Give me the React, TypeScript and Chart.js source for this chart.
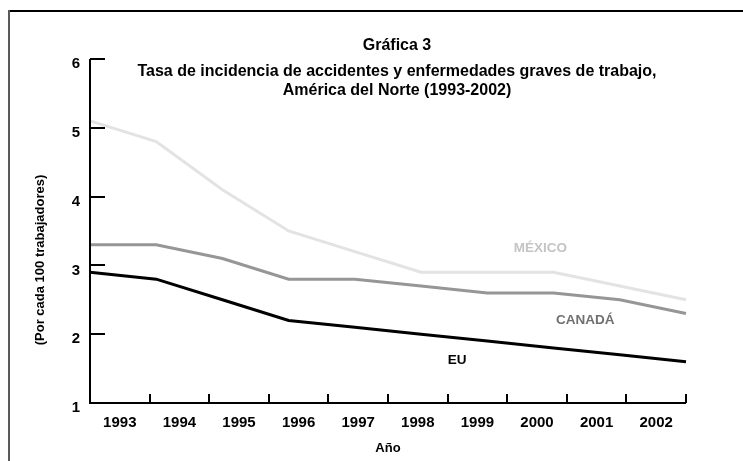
import React, { useEffect, useRef } from "react";
import { Chart, registerables } from "chart.js";

Chart.register(...registerables);

// ---- data ----
const years = ["1993", "1994", "1995", "1996", "1997", "1998", "1999", "2000", "2001", "2002"];
const mexico = [5.1, 4.8, 4.1, 3.5, 3.2, 2.9, 2.9, 2.9, 2.7, 2.5];
const canada = [3.3, 3.3, 3.1, 2.8, 2.8, 2.7, 2.6, 2.6, 2.5, 2.3];
const eu = [2.9, 2.8, 2.5, 2.2, 2.1, 2.0, 1.9, 1.8, 1.7, 1.6];
const yTickValues = [1, 2, 3, 4, 5, 6];
const seriesNames = ["MÉXICO", "CANADÁ", "EU"];
const titleLines = [
  "Gráfica 3",
  "Tasa de incidencia de accidentes y enfermedades graves de trabajo,",
  "América del Norte (1993-2002)",
];
const yAxisTitle = "(Por cada 100 trabajadores)";
const xAxisTitle = "Año";

// ---- styles ----
const FONT = "Arial, 'Liberation Sans', Helvetica, sans-serif";
const lineColors = ["#e3e3e3", "#969696", "#000000"];
const labelColors = ["#c4c4c4", "#707070", "#000000"];
// series label anchors in data coordinates (index on data axis, value)
const labelAnchors = [
  [6.8, 3.245],
  [7.48, 2.206],
  [5.545, 1.625],
];

const toPoints = (arr: number[]) => arr.map((v, i) => ({ x: i, y: v }));

const decorPlugin = {
  id: "decor",
  afterDraw(chart: any) {
    const { ctx, chartArea, scales } = chart;
    const xs = scales.x;
    const xd = scales.xd;
    const ys = scales.y;
    const { left, right, top, bottom } = chartArea;
    ctx.save();

    // outer frame (top and left edges)
    ctx.lineCap = "butt";
    ctx.strokeStyle = "#000";
    ctx.lineWidth = 2;
    ctx.beginPath();
    ctx.moveTo(8, 11);
    ctx.lineTo(chart.width, 11);
    ctx.stroke();
    ctx.strokeStyle = "#5a5a5a";
    ctx.beginPath();
    ctx.moveTo(9, 10);
    ctx.lineTo(9, chart.height);
    ctx.stroke();

    // axes
    ctx.strokeStyle = "#000";
    ctx.lineWidth = 2;
    ctx.beginPath();
    ctx.moveTo(left, top);
    ctx.lineTo(left, bottom);
    ctx.lineTo(right, bottom);
    ctx.stroke();

    // inward y ticks
    for (const v of yTickValues) {
      const py = Math.round(ys.getPixelForValue(v));
      ctx.beginPath();
      ctx.moveTo(left, py);
      ctx.lineTo(left + 15, py);
      ctx.stroke();
    }
    // inward x ticks at category boundaries
    for (let k = 1; k <= years.length; k++) {
      const px = Math.round(xs.getPixelForValue(k - 0.5));
      ctx.beginPath();
      ctx.moveTo(px, bottom);
      ctx.lineTo(px, bottom - 9);
      ctx.stroke();
    }

    // title
    ctx.fillStyle = "#000";
    ctx.textAlign = "center";
    ctx.textBaseline = "middle";
    ctx.font = `bold 16px ${FONT}`;
    const tx = 397;
    ctx.fillText(titleLines[0], tx, 46);
    ctx.fillText(titleLines[1], tx, 72);
    ctx.fillText(titleLines[2], tx, 91);

    // axis titles
    ctx.font = `bold 13px ${FONT}`;
    ctx.fillText(xAxisTitle, (left + right) / 2, 448);
    ctx.save();
    ctx.translate(40, 260);
    ctx.rotate(-Math.PI / 2);
    ctx.fillText(yAxisTitle, 0, 0);
    ctx.restore();

    // series labels
    ctx.font = `bold 13.5px ${FONT}`;
    seriesNames.forEach((name, i) => {
      const [ax, ay] = labelAnchors[i];
      ctx.fillStyle = labelColors[i];
      ctx.fillText(name, xd.getPixelForValue(ax), ys.getPixelForValue(ay));
    });

    ctx.restore();
  },
};

export default function App() {
  const canvasRef = useRef<HTMLCanvasElement | null>(null);

  useEffect(() => {
    const canvas = canvasRef.current;
    if (!canvas) return;
    const mk = (label: string, data: number[], color: string) => ({
      label,
      data: toPoints(data),
      xAxisID: "xd",
      yAxisID: "y",
      borderColor: color,
      backgroundColor: color,
      borderWidth: 3,
      pointRadius: 0,
      tension: 0,
      clip: false as any,
    });
    const chart = new Chart(canvas, {
      type: "line",
      data: {
        labels: years,
        datasets: [
          mk(seriesNames[0], mexico, lineColors[0]),
          mk(seriesNames[1], canada, lineColors[1]),
          mk(seriesNames[2], eu, lineColors[2]),
        ],
      },
      options: {
        animation: false,
        responsive: false,
        devicePixelRatio: 1,
        layout: { padding: { left: 0, top: 59, right: 57, bottom: 0 } },
        plugins: {
          legend: { display: false },
          title: { display: false },
          tooltip: { enabled: false },
        },
        scales: {
          x: {
            type: "category",
            position: "bottom",
            offset: true,
            grid: { display: false, drawTicks: false },
            border: { display: false },
            ticks: {
              color: "#000",
              font: { family: FONT, size: 15, weight: "bold" },
              padding: 11,
              maxRotation: 0,
              autoSkip: false,
            },
            afterFit: (s: any) => {
              s.height = 58;
            },
          },
          xd: {
            type: "linear",
            display: false,
            min: 0,
            max: years.length - 1,
          },
          y: {
            type: "linear",
            min: 1,
            max: 6,
            grid: { display: false, drawTicks: false },
            border: { display: false },
            ticks: {
              stepSize: 1,
              color: "#000",
              font: { family: FONT, size: 15, weight: "bold" },
              padding: 10,
              labelOffset: 5,
            },
            afterFit: (s: any) => {
              s.width = 90;
            },
          },
        },
      },
      plugins: [decorPlugin],
    });
    return () => chart.destroy();
  }, []);

  return (
    <div style={{ position: "fixed", left: 0, top: 0, width: 743, height: 461, background: "#fff" }}>
      <canvas ref={canvasRef} width={743} height={461} style={{ display: "block" }} />
    </div>
  );
}
